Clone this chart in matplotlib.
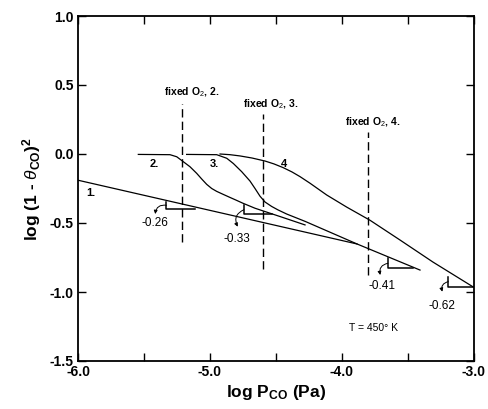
import matplotlib
matplotlib.use("Agg")
import matplotlib.pyplot as plt

plt.rcParams['font.family'] = ['Liberation Sans', 'DejaVu Sans']
plt.rcParams['mathtext.fontset'] = 'custom'
plt.rcParams['mathtext.rm'] = 'Liberation Sans'
plt.rcParams['mathtext.it'] = 'Liberation Sans:italic'
plt.rcParams['mathtext.bf'] = 'Liberation Sans:bold'

# curve 1 (straight line)
c1_x = [-6.0, -3.886]
c1_y = [-0.19, -0.652]
# curve 2
c2_x = [-5.543, -5.303, -5.252, -5.202, -5.152, -5.101, -5.063, -5.025, -4.987, -4.949,
        -4.899, -4.848, -4.803, -4.75, -4.659, -4.47, -4.28]
c2_y = [-0.003, -0.005, -0.02, -0.056, -0.092, -0.14, -0.181, -0.22, -0.25, -0.271,
        -0.293, -0.315, -0.334, -0.357, -0.393, -0.453, -0.514]
# curve 3
c3_x = [-5.177, -4.949, -4.873, -4.823, -4.760, -4.697, -4.659, -4.621, -4.583, -4.533,
        -4.485, -4.419, -4.280, -3.886, -3.409]
c3_y = [-0.003, -0.005, -0.031, -0.069, -0.128, -0.196, -0.25, -0.306, -0.348, -0.38,
        -0.405, -0.435, -0.488, -0.652, -0.841]
# curve 4
c4_x = [-4.924, -4.848, -4.773, -4.682, -4.583, -4.515, -4.445, -4.379, -4.318, -4.242,
        -4.116, -3.964, -3.788, -3.561, -3.311, -3.0]
c4_y = [0.0, -0.005, -0.014, -0.029, -0.051, -0.072, -0.099, -0.13, -0.164, -0.212,
        -0.297, -0.385, -0.48, -0.623, -0.783, -0.967]

curve_labels = ["1.", "2.", "3.", "4"]
curve_label_x = [-5.90, -5.42, -4.97, -4.44]
curve_label_y = [-0.285, -0.075, -0.075, -0.075]

# fixed O2 dashed lines
fixed_x = [-5.21, -4.596, -3.80]
fixed_top = [0.362, 0.288, 0.157]
fixed_bot = [-0.64, -0.83, -0.88]
fixed_labels = ["fixed O$_2$, 2.", "fixed O$_2$, 3.", "fixed O$_2$, 4."]
fixed_label_x = [-5.14, -4.54, -3.77]
fixed_label_y = [0.45, 0.36, 0.23]

# slope triangles: vertical leg x, top y, bottom y, horizontal leg end x
tri_x0 = [-5.33, -4.743, -3.652, -3.195]
tri_top = [-0.345, -0.37, -0.756, -0.889]
tri_bot = [-0.398, -0.437, -0.828, -0.961]
tri_x1 = [-5.11, -4.53, -3.46, -3.0]
slope_labels = ["-0.26", "-0.33", "-0.41", "-0.62"]
slope_label_x = [-5.42, -4.80, -3.70, -3.24]
slope_label_y = [-0.50, -0.615, -0.96, -1.10]
arrow_end_x = [-5.415, -4.79, -3.71, -3.24]
arrow_end_y = [-0.435, -0.527, -0.877, -0.998]

x_ticks = [-6.0, -5.0, -4.0, -3.0]
x_tick_labels = ["-6.0", "-5.0", "-4.0", "-3.0"]
x_minor = [-5.5, -4.5, -3.5]
y_ticks = [1.0, 0.5, 0.0, -0.5, -1.0, -1.5]
y_tick_labels = ["1.0", "0.5", "0.0", "-0.5", "-1.0", "-1.5"]

fig = plt.figure(figsize=(4.89, 4.09), dpi=100)
ax = fig.add_axes([78/489, 1 - 361/409, (474 - 78)/489, (361 - 16)/409])

lw = 0.9
for xs, ys in [(c1_x, c1_y), (c2_x, c2_y), (c3_x, c3_y), (c4_x, c4_y)]:
    ax.plot(xs, ys, color='black', lw=lw, solid_joinstyle='round')

for lab, x, y in zip(curve_labels, curve_label_x, curve_label_y):
    ax.text(x, y, lab, fontsize=8, fontweight='bold', ha='center', va='center')

for x, t, b in zip(fixed_x, fixed_top, fixed_bot):
    ax.plot([x, x], [b, t], color='black', lw=1.0, ls=(0, (6, 3)))
for lab, x, y in zip(fixed_labels, fixed_label_x, fixed_label_y):
    ax.text(x, y, lab, fontsize=7.5, fontweight='bold', ha='center', va='center')

for x0, t, b, x1 in zip(tri_x0, tri_top, tri_bot, tri_x1):
    ax.plot([x0, x0, x1], [t, b, b], color='black', lw=1.1)

for i in range(4):
    xs = tri_x0[i]
    ys = 0.5 * (tri_top[i] + tri_bot[i])
    ax.annotate("", xy=(arrow_end_x[i], arrow_end_y[i]), xytext=(xs, ys),
                arrowprops=dict(arrowstyle='-|>', color='black', lw=0.7,
                                mutation_scale=5, shrinkA=0, shrinkB=0,
                                connectionstyle='arc3,rad=0.5'))
    ax.text(slope_label_x[i], slope_label_y[i], slope_labels[i], fontsize=8.5,
            ha='center', va='center')

ax.text(-3.76, -1.26, "T = 450° K", fontsize=7.5, ha='center', va='center')

ax.set_xlim(-6.0, -3.0)
ax.set_ylim(-1.5, 1.0)
ax.set_xticks(x_ticks)
ax.set_xticklabels(x_tick_labels, fontsize=10, fontweight='bold')
ax.set_xticks(x_minor, minor=True)
ax.set_yticks(y_ticks)
ax.set_yticklabels(y_tick_labels, fontsize=10, fontweight='bold')
ax.tick_params(which='both', direction='in', top=True, right=True, length=6, width=1.0, pad=3)
for s in ax.spines.values():
    s.set_linewidth(1.3)

ax.set_xlabel("log P$_{\\mathbf{CO}}$ (Pa)", fontsize=12.5, fontweight='bold', labelpad=3)
ax.set_ylabel("log (1 - $\\theta_{\\mathbf{CO}}$)$^{\\mathbf{2}}$", fontsize=12.5, fontweight='bold', labelpad=5)

fig.savefig("out.png", dpi=100)
